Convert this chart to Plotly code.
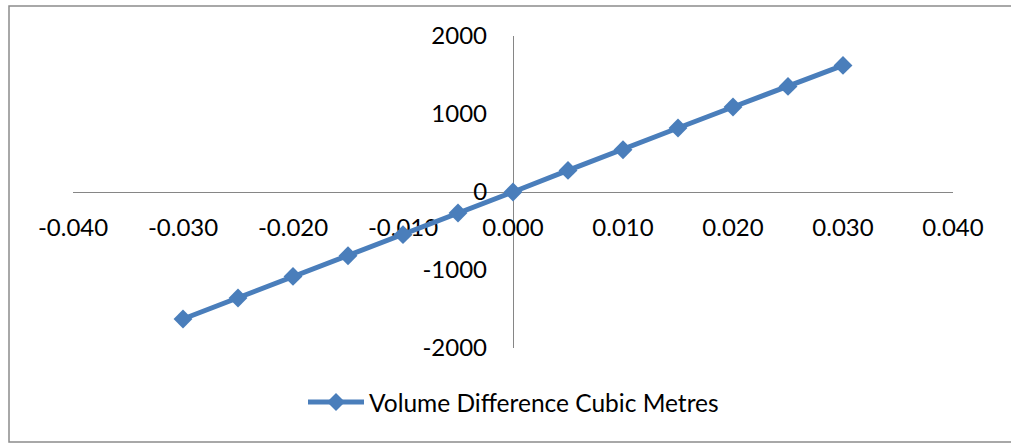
import plotly.graph_objects as go

# Strain values and resulting volume difference (cubic metres)
strain = [-0.030, -0.025, -0.020, -0.015, -0.010, -0.005, 0.000,
          0.005, 0.010, 0.015, 0.020, 0.025, 0.030]
volume_diff = [-1628, -1359, -1082, -817, -547, -269, 0,
               277, 542, 821, 1090, 1354, 1623]

x_tick_vals = [-0.04, -0.03, -0.02, -0.01, 0.0, 0.01, 0.02, 0.03, 0.04]
x_tick_text = ["-0.040", "-0.030", "-0.020", "-0.010", "0.000",
               "0.010", "0.020", "0.030", "0.040"]
y_tick_vals = [-2000, -1000, 0, 1000, 2000]
y_tick_text = ["-2000", "-1000", "0", "1000", "2000"]

series_name = "Volume Difference Cubic Metres"

BLUE = "#4A7EBB"
AXIS_GREY = "#868686"
FONT = dict(family="Lato, 'Open Sans', sans-serif", size=24, color="#000000")

W, H = 1011, 443
ML, MR, MT, MB = 73, 58, 36, 95
plot_w = W - ML - MR
plot_h = H - MT - MB


def px_x(p):
    return (p - ML) / plot_w


def px_y(p):
    return (H - MB - p) / plot_h


fig = go.Figure()
fig.add_trace(go.Scatter(
    x=strain, y=volume_diff, mode="lines+markers", name=series_name,
    line=dict(color=BLUE, width=5),
    marker=dict(symbol="diamond", size=14.5, color=BLUE, line=dict(width=0)),
    showlegend=False, cliponaxis=False,
))

# Outer chart frame
shapes = [dict(type="rect", xref="paper", yref="paper",
               x0=px_x(9), x1=px_x(1014), y0=px_y(442), y1=px_y(6),
               line=dict(color="#8c8c8c", width=1.5), layer="below")]

# Legend key: line with a diamond, centred under the plot
leg_y = px_y(402)
shapes.append(dict(type="line", xref="paper", yref="paper",
                   xsizemode="pixel", ysizemode="pixel",
                   xanchor=0.5, yanchor=leg_y,
                   x0=-205, x1=-149, y0=0, y1=0,
                   line=dict(color=BLUE, width=5)))
shapes.append(dict(type="path", xref="paper", yref="paper",
                   xsizemode="pixel", ysizemode="pixel",
                   xanchor=0.5, yanchor=leg_y,
                   path="M -186 0 L -177 9 L -168 0 L -177 -9 Z",
                   fillcolor=BLUE, line=dict(width=0)))

fig.update_layout(
    width=W, height=H,
    margin=dict(l=ML, r=MR, t=MT, b=MB, pad=0),
    paper_bgcolor="white", plot_bgcolor="white",
    font=FONT,
    shapes=shapes,
    annotations=[dict(xref="paper", yref="paper", x=0.5, y=leg_y,
                      xshift=-146, xanchor="left", yanchor="middle",
                      text=series_name, showarrow=False,
                      font=dict(FONT, size=24.5))],
    xaxis=dict(range=[-0.04, 0.04], tickvals=x_tick_vals, ticktext=x_tick_text,
               showgrid=False, zeroline=False, showline=True,
               linecolor=AXIS_GREY, linewidth=1.3,
               ticks="outside", ticklen=14, tickcolor="rgba(0,0,0,0)",
               anchor="free", position=0.5, layer="below traces",
               fixedrange=True),
    yaxis=dict(range=[-2000, 2000], tickvals=y_tick_vals, ticktext=y_tick_text,
               showgrid=False, zeroline=False, showline=True,
               linecolor=AXIS_GREY, linewidth=1.3,
               ticks="outside", ticklen=21, tickcolor="rgba(0,0,0,0)",
               anchor="free", position=0.5, side="left", layer="below traces",
               fixedrange=True),
)

fig.write_html("out.html")
